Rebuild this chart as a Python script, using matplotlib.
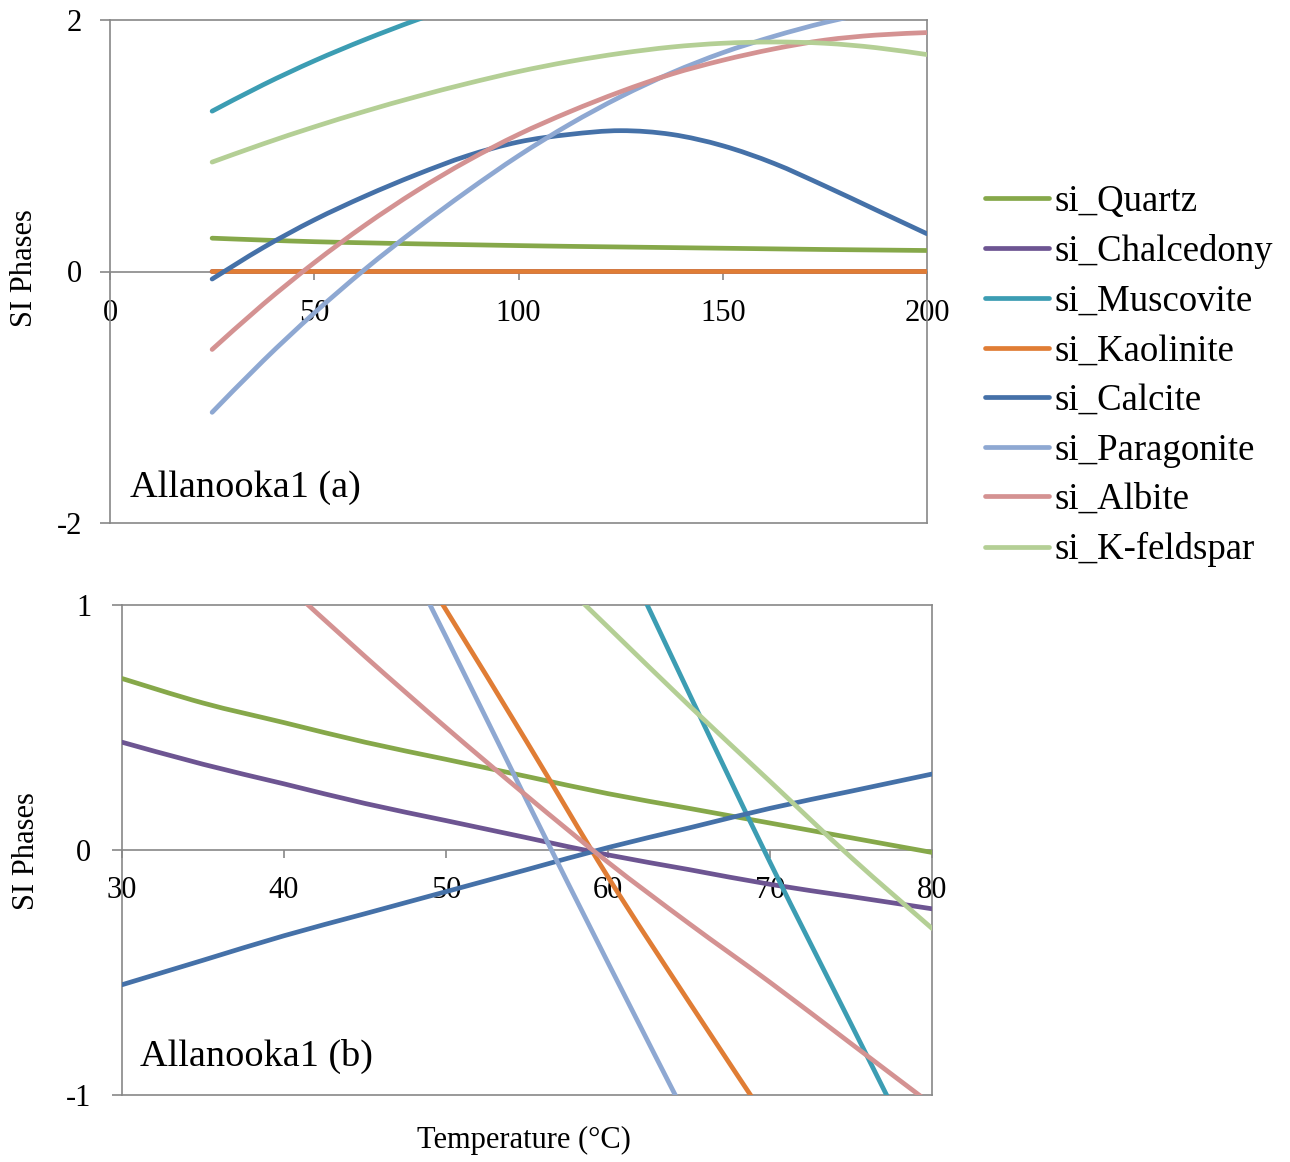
import numpy as np
import matplotlib.pyplot as plt
from matplotlib.path import Path
from matplotlib.patches import PathPatch
from matplotlib.lines import Line2D

plt.rcParams['font.family'] = ['Liberation Serif', 'DejaVu Serif']
plt.rcParams['axes.unicode_minus'] = False

nan = np.nan

# Allanooka1 (a): 25 - 200 C
temp_a = [25, 37.5, 50, 62.5, 75, 87.5, 100, 112.5, 125, 137.5, 150, 162.5, 175, 187.5, 200]
quartz_a = [0.265, 0.25, 0.237, 0.228, 0.22, 0.213, 0.206, 0.20, 0.195, 0.19, 0.185, 0.18, 0.175, 0.171, 0.167]
chalcedony_a = [0, 0, 0, 0, 0, 0, 0, 0, 0, 0, 0, 0, 0, 0, 0]
muscovite_a = [1.275, 1.485, 1.675, 1.845, 2.0, 2.14, nan, nan, nan, nan, nan, nan, nan, nan, nan]
kaolinite_a = [0, 0, 0, 0, 0, 0, 0, 0, 0, 0, 0, 0, 0, 0, 0]
calcite_a = [-0.06, 0.19, 0.41, 0.60, 0.77, 0.92, 1.03, 1.09, 1.12, 1.09, 1.00, 0.86, 0.68, 0.49, 0.30]
paragonite_a = [-1.12, -0.71, -0.33, 0.02, 0.34, 0.64, 0.92, 1.17, 1.39, 1.58, 1.74, 1.87, 1.98, 2.07, nan]
albite_a = [-0.62, -0.26, 0.07, 0.37, 0.64, 0.88, 1.09, 1.27, 1.43, 1.57, 1.68, 1.77, 1.84, 1.88, 1.90]
kfeldspar_a = [0.87, 1.015, 1.15, 1.275, 1.39, 1.495, 1.59, 1.67, 1.735, 1.785, 1.815, 1.825, 1.815, 1.78, 1.725]

# Allanooka1 (b): 30 - 80 C
temp_b = [30, 35, 40, 45, 50, 55, 60, 65, 70, 75, 80]
quartz_b = [0.70, 0.60, 0.52, 0.44, 0.37, 0.30, 0.23, 0.17, 0.11, 0.05, -0.01]
chalcedony_b = [0.44, 0.35, 0.27, 0.19, 0.12, 0.05, -0.02, -0.08, -0.14, -0.19, -0.24]
muscovite_b = [nan, nan, nan, nan, nan, 2.04, 1.34, 0.64, -0.05, -0.71, -1.37]
kaolinite_b = [nan, nan, nan, 1.51, 0.98, 0.44, -0.11, -0.62, -1.12, nan, nan]
calcite_b = [-0.55, -0.45, -0.35, -0.26, -0.17, -0.08, 0.01, 0.09, 0.17, 0.24, 0.31]
paragonite_b = [nan, nan, nan, 1.53, 0.87, 0.20, -0.46, -1.11, nan, nan, nan]
albite_b = [nan, nan, 1.09, 0.79, 0.50, 0.22, -0.05, -0.30, -0.54, -0.79, -1.04]
kfeldspar_b = [nan, nan, nan, nan, 1.55, 1.23, 0.91, 0.59, 0.28, -0.03, -0.32]

names = ['si_Quartz', 'si_Chalcedony', 'si_Muscovite', 'si_Kaolinite',
         'si_Calcite', 'si_Paragonite', 'si_Albite', 'si_K-feldspar']
colors = ['#86A84A', '#6D5592', '#3C9DB3', '#E07D35',
          '#4571A8', '#8EA8D2', '#D49292', '#B4CF95']

series_a = [quartz_a, chalcedony_a, muscovite_a, kaolinite_a,
            calcite_a, paragonite_a, albite_a, kfeldspar_a]
series_b = [quartz_b, chalcedony_b, muscovite_b, kaolinite_b,
            calcite_b, paragonite_b, albite_b, kfeldspar_b]

gray = '#888888'
LW = 3.4


def smooth_line(ax, xs, ys, color):
    # smoothed line through the points (like Excel's "smoothed line")
    xs = np.asarray(xs, float)
    ys = np.asarray(ys, float)
    idx = np.where(np.isfinite(ys))[0]
    if len(idx) < 2:
        return
    runs = np.split(idx, np.where(np.diff(idx) > 1)[0] + 1)
    for r in runs:
        if len(r) < 2:
            continue
        p = np.column_stack([xs[r], ys[r]])
        verts = [p[0]]
        codes = [Path.MOVETO]
        n = len(p)
        for i in range(n - 1):
            p0 = p[i - 1] if i > 0 else p[i]
            p3 = p[i + 2] if i + 2 < n else p[i + 1]
            c1 = p[i] + (p[i + 1] - p0) / 6
            c2 = p[i + 1] - (p3 - p[i]) / 6
            verts += [c1, c2, p[i + 1]]
            codes += [Path.CURVE4] * 3
        patch = PathPatch(Path(verts, codes), fill=False, edgecolor=color,
                          lw=LW, capstyle='round', joinstyle='round', zorder=3)
        ax.add_patch(patch)


fig = plt.figure(figsize=(12.9, 11.62), dpi=100)
ax1 = fig.add_axes([110/1290, 1 - 523/1162, 817/1290, 503/1162])
ax2 = fig.add_axes([122/1290, 1 - 1095/1162, 810/1290, 490/1162])


def style_axes(ax, xlim, ylim, xticks, yticks, xpad, ypad):
    ax.set_xlim(xlim)
    ax.set_ylim(ylim)
    ax.set_xticks(xticks)
    ax.set_yticks(yticks)
    for s in ax.spines.values():
        s.set_color(gray)
        s.set_linewidth(1.2)
    # x axis crosses at y = 0, plot area border kept at bottom
    ax.spines['bottom'].set_position(('data', 0))
    ax.plot([0, 1], [0, 0], transform=ax.transAxes, color=gray, lw=1.2, clip_on=False)
    ax.tick_params(axis='x', direction='out', length=6, width=1.2, color=gray,
                   labelsize=22, pad=xpad)
    ax.tick_params(axis='y', direction='out', length=7, width=1.2, color=gray,
                   labelsize=22, pad=ypad)


for vals, c in zip(series_a, colors):
    smooth_line(ax1, temp_a, vals, c)
for vals, c in zip(series_b, colors):
    smooth_line(ax2, temp_b, vals, c)

style_axes(ax1, (0, 200), (-2, 2), [0, 50, 100, 150, 200], [-2, 0, 2], 14, 13)
style_axes(ax2, (30, 80), (-1, 1), [30, 40, 50, 60, 70, 80], [-1, 0, 1], 13, 15)

ax1.text(0.0245, 0.07, 'Allanooka1 (a)', transform=ax1.transAxes,
         fontsize=27.5, va='center', ha='left', zorder=4)
ax2.text(0.022, 0.078, 'Allanooka1 (b)', transform=ax2.transAxes,
         fontsize=27.5, va='center', ha='left', zorder=4)

fig.text(25/1290, 1 - 268/1162, 'SI Phases', rotation=90, fontsize=22,
         ha='center', va='center')
fig.text(27/1290, 1 - 851/1162, 'SI Phases', rotation=90, fontsize=22,
         ha='center', va='center')
fig.text(524/1290, 1 - 1140/1162, 'Temperature (\u00b0C)', fontsize=22,
         ha='center', va='center')

handles = [Line2D([], [], color=c, lw=LW, solid_capstyle='round') for c in colors]
fig.legend(handles, names, loc='center left', bbox_to_anchor=(985/1290, 1 - 376/1162),
           frameon=False, fontsize=26.5, handlelength=1.75, handletextpad=0.15,
           labelspacing=0.41, borderpad=0, borderaxespad=0)

fig.savefig('out.png', dpi=100)
